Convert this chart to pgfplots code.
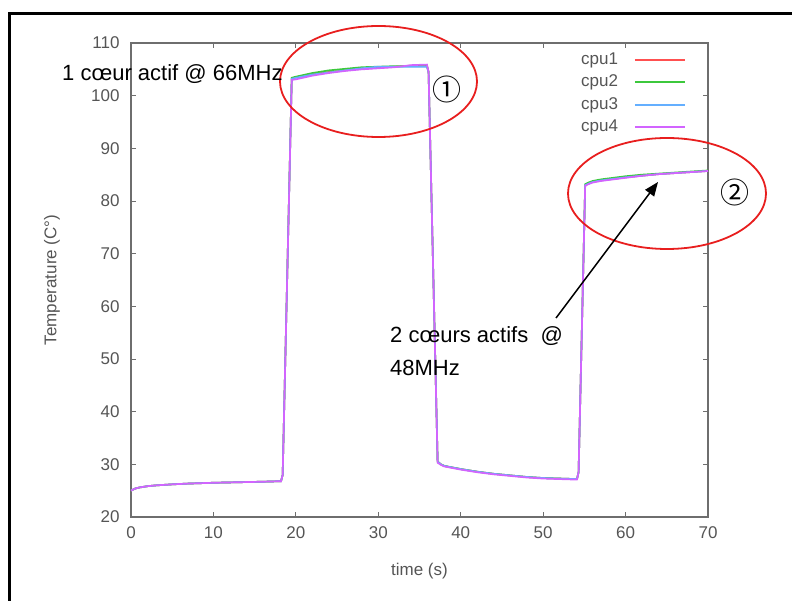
\documentclass[border=0pt]{standalone}
\usepackage{pgfplots}
\pgfplotsset{compat=1.18}
\usepackage{fontspec}
\setmainfont{Liberation Sans}
\newfontfamily\cjk{Noto Sans CJK SC}
\usetikzlibrary{arrows.meta}
\definecolor{axisgray}{RGB}{110,110,110}
\definecolor{labelgray}{RGB}{85,85,85}
\definecolor{cpuA}{RGB}{255,80,80}
\definecolor{cpuB}{RGB}{60,200,60}
\definecolor{cpuC}{RGB}{100,175,255}
\definecolor{cpuD}{RGB}{210,100,255}
\definecolor{annred}{RGB}{232,30,30}
\begin{document}
\begin{tikzpicture}[x=1pt,y=1pt]
\useasboundingbox (0,0) rectangle (792,-601);
\draw[line width=3pt, black] (9,-601) -- (9,-14) -- (792,-14);
\begin{axis}[
  at={(131pt,-517pt)}, anchor=south west,
  scale only axis, width=577pt, height=474pt,
  xmin=0, xmax=70, ymin=20, ymax=110,
  xtick={0,10,...,70}, ytick={20,30,...,110},
  axis line style={draw=axisgray, line width=1.2pt},
  tick style={draw=axisgray, line width=1pt},
  major tick length=5pt, tick align=inside,
  /pgf/number format/assume math mode=true,
  ticklabel style={font=\fontsize{17}{20}\selectfont, text=labelgray},
  yticklabel style={xshift=-8pt},
  xticklabel style={yshift=-6pt},
  xlabel={time (s)}, ylabel={Temperature (C°)},
  label style={font=\fontsize{17}{20}\selectfont, text=labelgray},
  xlabel style={at={(axis description cs:0.5,-0.1139)}, anchor=center},
  ylabel style={at={(axis description cs:-0.1369,0.5)}, anchor=center},
  legend plot pos=right, legend cell align=right,
  legend image code/.code={\draw[#1] (0pt,0pt) -- (50pt,0pt);},
  legend style={at={(axis cs:67.33,108.39)}, anchor=north east, draw=none, fill=none,
    inner sep=0pt, row sep=6.5pt, column sep=16pt,
    font=\fontsize{17}{20}\selectfont, text=labelgray,
    nodes={inner xsep=0pt, inner ysep=0pt, text height=12.5pt, text depth=3.5pt}},
  clip=false,
  every axis plot/.append style={line width=1.7pt},
]
\addplot[cpuA] coordinates {(0,25.0)(0.5,25.4)(1,25.6)(2,25.85)(3,26.0)(5,26.2)(7,26.35)(10,26.5)(13,26.6)(16,26.7)(18.2,26.8)(18.4,28)(19.5,103.3)(20,103.5)(21,103.8)(22,104.1)(24,104.5)(26,104.8)(28,105.1)(30,105.3)(32,105.5)(34,105.7)(35.9,105.8)(36.1,104.5)(37.2,30.5)(37.6,30.0)(38,29.7)(40,29.1)(42,28.6)(44,28.2)(46,27.9)(48,27.6)(50,27.4)(52,27.3)(54.1,27.2)(54.3,28.5)(55.1,83.0)(55.5,83.3)(56,83.6)(57,83.9)(58,84.1)(60,84.5)(62,84.8)(64,85.1)(66,85.3)(68,85.5)(70,85.7)};
\addlegendentry{cpu1}
\addplot[cpuB] coordinates {(0,25.0)(0.5,25.4)(1,25.6)(2,25.85)(3,26.0)(5,26.2)(7,26.35)(10,26.5)(13,26.6)(16,26.7)(18.2,26.8)(18.4,28)(19.5,103.4)(20,103.6)(22,104.3)(24,104.8)(26,105.1)(28,105.4)(30,105.5)(32,105.6)(34,105.6)(35.9,105.6)(36.1,104.5)(37.2,30.5)(37.6,30.0)(38,29.7)(40,29.1)(42,28.6)(44,28.2)(46,27.9)(48,27.6)(50,27.4)(52,27.3)(54.1,27.2)(54.3,28.5)(55.1,83.2)(55.5,83.5)(56,83.8)(57,84.1)(58,84.3)(60,84.7)(62,85.0)(64,85.2)(66,85.4)(68,85.6)(70,85.8)};
\addlegendentry{cpu2}
\addplot[cpuC] coordinates {(0,25.0)(0.5,25.4)(1,25.6)(2,25.85)(3,26.0)(5,26.2)(7,26.35)(10,26.5)(13,26.6)(16,26.7)(18.2,26.8)(18.4,28)(19.5,103.2)(20,103.4)(22,104.0)(24,104.4)(26,104.8)(28,105.2)(30,105.5)(32,105.5)(34,105.5)(35.9,105.5)(36.1,104.5)(37.2,30.5)(37.6,30.0)(38,29.7)(40,29.1)(42,28.6)(44,28.2)(46,27.9)(48,27.6)(50,27.4)(52,27.3)(54.1,27.2)(54.3,28.5)(55.1,83.0)(55.5,83.3)(56,83.6)(57,83.9)(58,84.1)(60,84.5)(62,84.8)(64,85.1)(66,85.3)(68,85.5)(70,85.7)};
\addlegendentry{cpu3}
\addplot[cpuD] coordinates {(0,25.0)(0.5,25.4)(1,25.6)(2,25.85)(3,26.0)(5,26.2)(7,26.35)(10,26.5)(13,26.6)(16,26.7)(18.2,26.8)(18.4,28)(19.5,103.0)(20,103.1)(22,103.8)(24,104.3)(26,104.7)(28,105.0)(30,105.2)(32,105.4)(34,105.8)(35.9,105.9)(36.1,104.5)(37.2,30.3)(37.6,29.9)(38,29.6)(40,29.0)(42,28.5)(44,28.1)(46,27.8)(48,27.5)(50,27.3)(52,27.2)(54.1,27.1)(54.3,28.5)(55.1,82.9)(55.5,83.2)(56,83.5)(57,83.8)(58,84.0)(60,84.4)(62,84.8)(64,85.1)(66,85.3)(68,85.5)(70,85.7)};
\addlegendentry{cpu4}
\end{axis}
\draw[annred, line width=1.8pt] (378.5,-81.5) ellipse [x radius=98.5pt, y radius=55.5pt];
\draw[annred, line width=1.8pt] (667,-193.5) ellipse [x radius=99pt, y radius=55.5pt];
\draw[black, line width=1.5pt, -{Triangle[length=14pt,width=11pt]}] (556,-318) -- (658,-182);
\node[anchor=base west, inner sep=0pt, font=\fontsize{22}{26}\selectfont] at (62,-81) {1 cœur actif @ 66MHz};
\node[anchor=base west, inner sep=0pt, font=\fontsize{22}{26}\selectfont] at (390,-343) {2 cœurs actifs\ \ @};
\node[anchor=base west, inner sep=0pt, font=\fontsize{22}{26}\selectfont] at (390,-375) {48MHz};
\node[inner sep=0pt, font=\cjk\fontsize{29}{31}\selectfont] at (447,-89) {①};
\node[inner sep=0pt, font=\cjk\fontsize{29}{31}\selectfont] at (735,-192) {②};
\end{tikzpicture}
\end{document}
